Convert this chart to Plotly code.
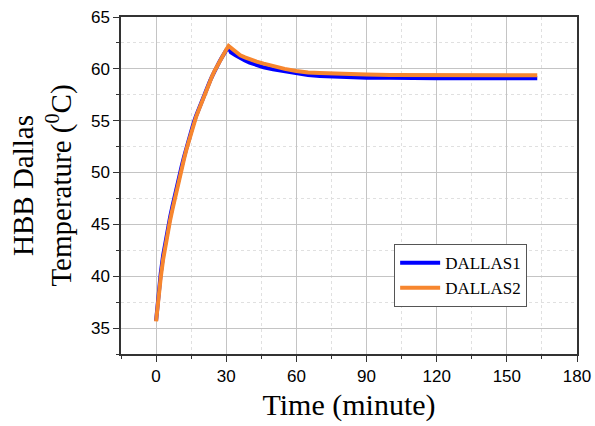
import plotly.graph_objects as go

# Time (minutes)
time_min = [0, 1, 2, 3, 4, 5, 6, 7, 8, 9, 10, 11, 12, 13, 14, 15, 16, 17, 18, 19,
            20, 21, 22, 23, 24, 25, 26, 27, 28, 29, 30, 31,
            32, 34, 36, 38, 40, 43, 46, 50, 55, 60, 65, 70, 75, 80, 85, 90,
            100, 110, 120, 130, 140, 150, 160, 163]

dallas1 = [35.7, 38.4, 40.3, 42.0, 43.4, 44.65, 45.7, 46.75, 47.8, 48.75, 49.75, 50.65,
           51.55, 52.4, 53.25, 54.05, 54.75, 55.4, 56.0, 56.55, 57.15, 57.7, 58.25, 58.8,
           59.3, 59.8, 60.25, 60.65, 61.05, 61.45, 61.8, 62.05,
           61.6, 61.3, 61.0, 60.8, 60.6, 60.35, 60.15, 59.95, 59.75, 59.55, 59.4, 59.3,
           59.25, 59.2, 59.2, 59.15, 59.15, 59.1, 59.1, 59.1, 59.1, 59.1, 59.1, 59.1]

dallas2 = [35.65, 38.0, 39.9, 41.6, 43.0, 44.3, 45.4, 46.45, 47.5, 48.5, 49.5, 50.45,
           51.35, 52.25, 53.1, 53.9, 54.65, 55.3, 55.9, 56.5, 57.1, 57.7, 58.25, 58.8,
           59.3, 59.8, 60.25, 60.7, 61.1, 61.5, 61.85, 62.2,
           62.0, 61.6, 61.3, 61.1, 60.9, 60.7, 60.5, 60.25, 60.0, 59.8, 59.65, 59.6,
           59.55, 59.5, 59.5, 59.45, 59.4, 59.4, 59.4, 59.38, 59.38, 59.38, 59.38, 59.38]

fig = go.Figure()
fig.add_trace(go.Scatter(x=time_min, y=dallas1, mode="lines", name="DALLAS1",
                         line=dict(color="#0000ff", width=4)))
fig.add_trace(go.Scatter(x=time_min, y=dallas2, mode="lines", name="DALLAS2",
                         line=dict(color="#f7862e", width=4)))

axis_common = dict(
    showline=True, linecolor="#333333", linewidth=1.5, mirror=True,
    gridcolor="#c4c4c4", gridwidth=1,
    zeroline=False, automargin=False,
    tickfont=dict(family="Liberation Sans, Arial", size=17, color="black"),
    ticklen=6, tickwidth=1.2, tickcolor="#333333",
)

fig.update_layout(
    width=595, height=426,
    margin=dict(l=121, r=18, t=17, b=72),
    paper_bgcolor="white", plot_bgcolor="white",
    font=dict(family="Liberation Serif, Times New Roman", color="black"),
    xaxis=dict(
        range=[-15, 180], dtick=30, tick0=0, ticks="outside",
        title=dict(text="Time (minute)", font=dict(family="Liberation Serif", size=30), standoff=9),
        minor=dict(dtick=15, tick0=0, ticks="outside", ticklen=3, tickcolor="#333333",
                   showgrid=True, gridcolor="#e0e0e0", griddash="dot"),
        **axis_common,
    ),
    yaxis=dict(
        range=[32.5, 65], dtick=5, tick0=35, ticks="outside",
        title=dict(text="HBB Dallas<br>Temperature (<sup>0</sup>C)",
                   font=dict(family="Liberation Serif", size=29), standoff=11),
        minor=dict(dtick=2.5, tick0=35, ticks="outside", ticklen=3, tickcolor="#333333",
                   showgrid=True, gridcolor="#e0e0e0", griddash="dot"),
        **axis_common,
    ),
    xaxis2=dict(
        overlaying="x", side="top", anchor="y", range=[-15, 180], dtick=30, tick0=0,
        ticks="inside", ticklen=6, tickcolor="#333333", tickwidth=1.2,
        showticklabels=False, showgrid=False, zeroline=False, automargin=False,
        showline=True, linecolor="#333333", linewidth=1.5,
        minor=dict(dtick=15, tick0=0, ticks="inside", ticklen=3, tickcolor="#333333"),
    ),
    yaxis2=dict(
        overlaying="y", side="right", anchor="x", range=[32.5, 65], dtick=5, tick0=35,
        ticks="inside", ticklen=6, tickcolor="#333333", tickwidth=1.2,
        showticklabels=False, showgrid=False, zeroline=False, automargin=False,
        showline=True, linecolor="#333333", linewidth=1.5,
        minor=dict(dtick=2.5, tick0=35, ticks="inside", ticklen=3, tickcolor="#333333"),
    ),
    legend=dict(
        x=0.599, y=0.326, xanchor="left", yanchor="top",
        bgcolor="white", bordercolor="#555555", borderwidth=1,
        font=dict(family="Liberation Serif", size=17, color="black"),
        tracegroupgap=0, itemwidth=40,
    ),
    showlegend=True,
)

fig.write_html(
    "out.html",
    config={"displayModeBar": False},
    post_script="document.body.style.margin='0';document.body.style.overflow='hidden';",
)
